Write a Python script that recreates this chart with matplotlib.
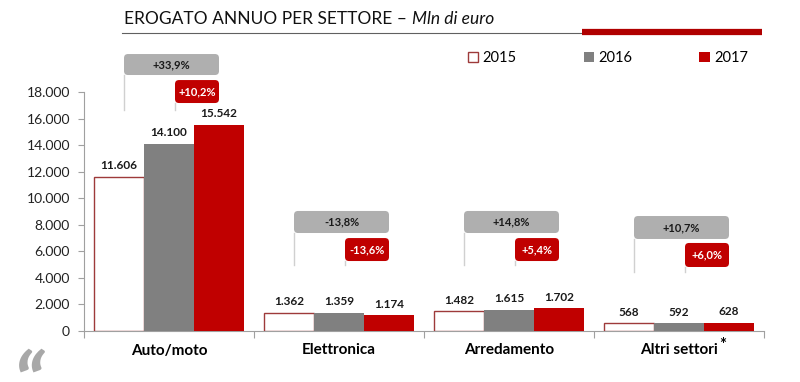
import matplotlib.pyplot as plt
from matplotlib.patches import FancyBboxPatch, Patch
from matplotlib.ticker import FixedLocator, FuncFormatter

plt.rcParams['font.family'] = ['Lato', 'DejaVu Sans']

categories = ["Auto/moto", "Elettronica", "Arredamento", "Altri settori"]
years = ["2015", "2016", "2017"]
v2015 = [11606, 1362, 1482, 568]
v2016 = [14100, 1359, 1615, 592]
v2017 = [15542, 1174, 1702, 628]
chg_15_17 = ["+33,9%", "-13,8%", "+14,8%", "+10,7%"]
chg_16_17 = ["+10,2%", "-13,6%", "+5,4%", "+6,0%"]

RED = "#C00000"
GREY = "#808080"
BOXGREY = "#AFAFAF"
EDGE = "#9E3A3A"

# box levels (bottom, top) for the two change boxes, and line end
box_grey = [(19280, 20860), (7380, 9040), (7380, 9040), (6930, 8660)]
box_red = [(17170, 18900), (5270, 7000), (5270, 7000), (4820, 6630)]
line_end = [16640, 4970, 4970, 4440]

W, H = 800, 382
fig = plt.figure(figsize=(8, 3.82), dpi=100)
ax = fig.add_axes([84 / W, 1 - 331 / H, 680 / W, 239 / H])

bw = 50 / 170
xs = [i + 0.5 for i in range(len(categories))]
series = [v2015, v2016, v2017]
styles = [dict(color="white", edgecolor=EDGE, linewidth=1.0),
          dict(color=GREY), dict(color=RED)]
fmt = lambda v: f"{v:,}".replace(",", ".")
for k, (vals, st) in enumerate(zip(series, styles)):
    pos = [x + (k - 1) * bw for x in xs]
    bars = ax.bar(pos, vals, width=bw, zorder=3, **st)
    ax.bar_label(bars, labels=[fmt(v) for v in vals], padding=4,
                 fontsize=8.5, fontweight="bold", color="#1A1A1A")

ax.set_xlim(0, 4)
ax.set_ylim(0, 18000)
ax.yaxis.set_major_locator(FixedLocator(range(0, 18001, 2000)))
ax.yaxis.set_major_formatter(FuncFormatter(lambda v, p: fmt(int(v))))
ax.tick_params(axis="y", length=4, width=0.8, color="#A0A0A0", pad=6,
               labelsize=10, labelcolor="#222222")
ax.set_xticks([0, 1, 2, 3, 4])
ax.set_xticklabels([])
ax.set_xticks(xs, minor=True)
ax.set_xticklabels(categories, minor=True, fontsize=11, fontweight="bold")
ax.tick_params(axis="x", which="major", length=5, width=0.8, color="#A0A0A0")
ax.tick_params(axis="x", which="minor", length=0, pad=9)
for s in ["top", "right"]:
    ax.spines[s].set_visible(False)
for s in ["left", "bottom"]:
    ax.spines[s].set_color("#A0A0A0")
    ax.spines[s].set_linewidth(0.8)

# change boxes
xpx = 1 / 170.0
ypx = 18000 / 239.0
asp = ypx / xpx
for i, x in enumerate(xs):
    c15, c16, c17 = x - bw, x, x + bw
    for (x0, (y0, y1), txt, col, tcol) in [
            (c15 + 5 * xpx, box_grey[i], chg_15_17[i], BOXGREY, "#1A1A1A"),
            (c16 + 6 * xpx, box_red[i], chg_16_17[i], RED, "white")]:
        ax.plot([x0, x0], [y0, line_end[i]], color="#D0D0D0", lw=1,
                clip_on=False, zorder=1)
        p = FancyBboxPatch((x0, y0), c17 - x0, y1 - y0,
                           boxstyle=f"round,pad=0,rounding_size={4 * xpx}",
                           mutation_aspect=asp, facecolor=col,
                           edgecolor="none", clip_on=False, zorder=4)
        ax.add_patch(p)
        ax.text((x0 + c17) / 2, (y0 + y1) / 2, txt, ha="center", va="center",
                fontsize=8, fontweight="bold", color=tcol, zorder=5)

# asterisk on the last category
ax.annotate("*", xy=(1, 1), xycoords=ax.get_xticklabels(minor=True)[-1],
            xytext=(1, 5), textcoords="offset points", ha="left", va="top",
            fontsize=12, fontweight="bold")

# legend
handles = [Patch(facecolor="white", edgecolor=EDGE, linewidth=1.0),
           Patch(facecolor=GREY), Patch(facecolor=RED)]
fig.legend(handles, years, loc="center left",
           bbox_to_anchor=(468 / W, 1 - 58 / H), ncol=3, frameon=False,
           handlelength=0.7, handleheight=0.7, handletextpad=0.3,
           columnspacing=4.6, fontsize=10.5, borderaxespad=0, borderpad=0)

# title with underline
t1 = fig.text(124 / W, 1 - 19 / H, "EROGATO ANNUO PER SETTORE – ",
              fontsize=12.5, va="center", ha="left", color="#111111")
fig.canvas.draw()
bb = t1.get_window_extent(fig.canvas.get_renderer())
fig.text(bb.x1 / W, 1 - 19 / H, "Mln di euro", fontsize=12.5,
         style="italic", va="center", ha="left", color="#111111")
fig.add_artist(plt.Line2D([122 / W, 582 / W], [1 - 33 / H] * 2,
                          color="#606060", lw=0.8))
fig.add_artist(plt.Line2D([582 / W, 762 / W], [1 - 32 / H] * 2,
                          color="#B00000", lw=4.5, solid_capstyle="butt"))

# decorative quote mark
fig.text(12 / W, 1 - 352 / H, "\u201c", fontsize=60, fontweight="bold",
         style="italic", color="#A8A8A8", va="top", ha="left")

fig.savefig("out.png", dpi=100)
